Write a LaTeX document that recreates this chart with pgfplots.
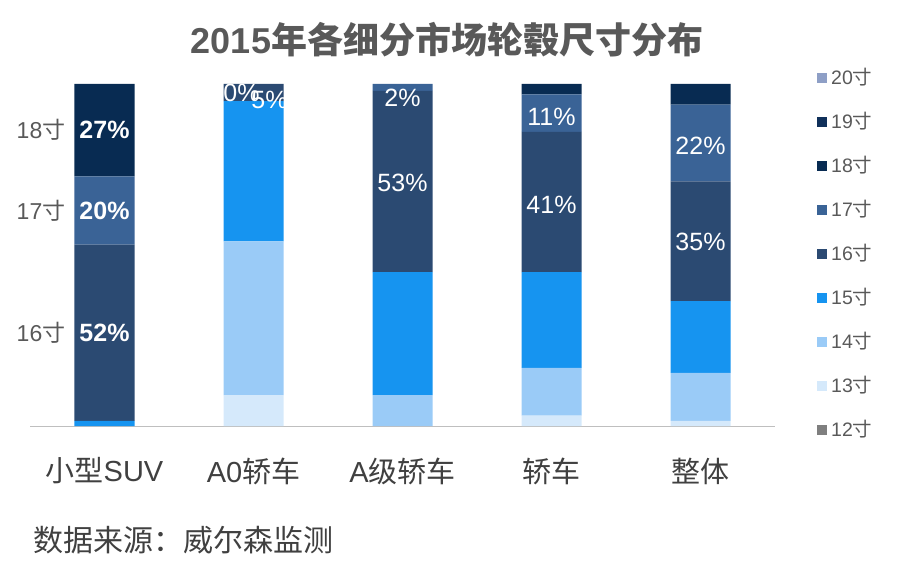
\documentclass[border=0pt]{standalone}
\usepackage{fontspec}
\setmainfont{Liberation Sans}
\newfontfamily\cjk{Noto Sans CJK SC}
\newcommand{\C}[1]{{\cjk #1}}
\usepackage{pgfplots}
\pgfplotsset{compat=1.18}
\definecolor{c12}{HTML}{7F7F7F}
\definecolor{c13}{HTML}{D5E9FB}
\definecolor{c14}{HTML}{9ACBF7}
\definecolor{c15}{HTML}{1694F0}
\definecolor{c16}{HTML}{2B4A72}
\definecolor{c17}{HTML}{3A6396}
\definecolor{c18}{HTML}{082B52}
\definecolor{c19}{HTML}{10305A}
\definecolor{c20}{HTML}{8E9FC6}
\definecolor{txt}{HTML}{595959}
\definecolor{cat}{HTML}{404040}
\begin{document}
\begin{tikzpicture}[x=1pt,y=1pt,
  lab/.style={text=white, font=\fontsize{25}{28}\selectfont, inner sep=0pt},
  side/.style={text=txt, font=\fontsize{23}{26}\selectfont, inner sep=0pt, anchor=east, xshift=-39pt}]
\useasboundingbox (0,0) rectangle (900,568);
\begin{axis}[
  at={(30pt,142pt)}, anchor=south west,
  scale only axis, width=745pt, height=342pt,
  xmin=-0.5, xmax=4.5, ymin=0, ymax=100,
  ybar stacked, bar width=60pt,
  axis y line=none, axis x line*=bottom,
  x axis line style={-, draw=black!25, line width=1pt},
  xtick={0,1,2,3,4},
  xticklabels={\C{小型}SUV, A0\C{轿车}, A\C{级轿车}, \C{轿车}, \C{整体}},
  major tick length=0pt,
  xticklabel style={font=\fontsize{29}{32}\selectfont, text=cat, anchor=center, yshift=-45pt},
  clip=false,
  reverse legend,
  legend style={at={(1,1)}, anchor=north west, xshift=42pt, yshift=16pt,
    draw=none, fill=none, inner sep=0pt, row sep=24pt,
    font=\fontsize{19.5}{22}\selectfont, text=txt,
    nodes={inner sep=0pt, text height=16pt, text depth=4pt},
    /tikz/every odd column/.append style={column sep=4pt}},
  legend cell align=left,
  legend image code/.code={\fill[#1] (0pt,-5pt) rectangle (10pt,5pt);},
]
\addplot[draw=none, fill=c12] coordinates {(0,0) (1,0) (2,0) (3,0) (4,0)};
\addlegendentry{12\C{寸}}
\addplot[draw=none, fill=c13] coordinates {(0,0) (1,9) (2,0) (3,3) (4,1.5)};
\addlegendentry{13\C{寸}}
\addplot[draw=none, fill=c14] coordinates {(0,0) (1,45) (2,9) (3,14) (4,14)};
\addlegendentry{14\C{寸}}
\addplot[draw=none, fill=c15] coordinates {(0,1.5) (1,41) (2,36) (3,28) (4,21)};
\addlegendentry{15\C{寸}}
\addplot[draw=none, fill=c16] coordinates {(0,51.5) (1,5) (2,53) (3,41) (4,35)};
\addlegendentry{16\C{寸}}
\addplot[draw=none, fill=c17] coordinates {(0,20) (1,0) (2,2) (3,11) (4,22.5)};
\addlegendentry{17\C{寸}}
\addplot[draw=none, fill=c18] coordinates {(0,27) (1,0) (2,0) (3,3) (4,6)};
\addlegendentry{18\C{寸}}
\addplot[draw=none, fill=c19] coordinates {(0,0) (1,0) (2,0) (3,0) (4,0)};
\addlegendentry{19\C{寸}}
\addplot[draw=none, fill=c20] coordinates {(0,0) (1,0) (2,0) (3,0) (4,0)};
\addlegendentry{20\C{寸}}
\coordinate (a1) at (axis cs:0,86.5);
\coordinate (a2) at (axis cs:0,63);
\coordinate (a3) at (axis cs:0,27.25);
\coordinate (b1) at (axis cs:1,97.4);
\coordinate (b2) at (axis cs:1,95.3);
\coordinate (c1) at (axis cs:2,95.9);
\coordinate (c2) at (axis cs:2,71);
\coordinate (d1) at (axis cs:3,90.4);
\coordinate (d2) at (axis cs:3,64.6);
\coordinate (e1) at (axis cs:4,81.9);
\coordinate (e2) at (axis cs:4,53.9);
\end{axis}
\node[lab] at (a1) {\bfseries 27\%};
\node[lab] at (a2) {\bfseries 20\%};
\node[lab] at (a3) {\bfseries 52\%};
\node[lab, xshift=-12pt] at (b1) {0\%};
\node[lab, xshift=16pt] at (b2) {5\%};
\node[lab] at (c1) {2\%};
\node[lab] at (c2) {53\%};
\node[lab] at (d1) {11\%};
\node[lab] at (d2) {41\%};
\node[lab] at (e1) {22\%};
\node[lab] at (e2) {35\%};
\node[side] at (a1) {18\C{寸}};
\node[side] at (a2) {17\C{寸}};
\node[side] at (a3) {16\C{寸}};
\node[text=txt, font=\fontsize{36}{40}\selectfont\bfseries] at (447,528) {2015\C{年各细分市场轮毂尺寸分布}};
\node[text=cat, anchor=west, inner sep=0pt, font=\fontsize{30}{34}\selectfont] at (33,28) {\C{数据来源：威尔森监测}};
\end{tikzpicture}
\end{document}
